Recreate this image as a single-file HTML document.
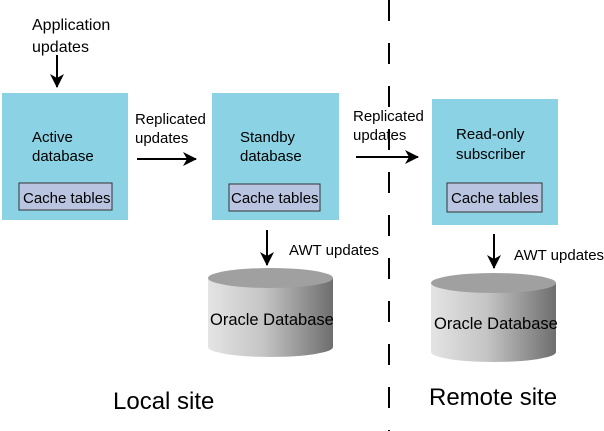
<!DOCTYPE html>
<html><head><meta charset="utf-8"><style>
body{margin:0;background:#fff;}
svg{display:block;font-family:"Liberation Sans",sans-serif;}
</style></head><body>
<svg width="604" height="431" viewBox="0 0 604 431" xmlns="http://www.w3.org/2000/svg">
<defs>
<linearGradient id="cyl" x1="0" x2="1" y1="0" y2="0">
<stop offset="0" stop-color="#e4e4e4"/><stop offset="0.45" stop-color="#c4c4c4"/><stop offset="1" stop-color="#6e6e6e"/>
</linearGradient>
<marker id="ah2" markerWidth="14" markerHeight="14" refX="13" refY="7" orient="auto" markerUnits="userSpaceOnUse">
<path d="M0,0 L14,7 L0,14 L4,7 Z" fill="#000"/></marker>
</defs>
<line x1="389" y1="0" x2="389" y2="431" stroke="#000" stroke-width="2" stroke-dasharray="21 22"/>
<g font-size="15" fill="#000">
<text x="32" y="30" font-size="16">Application</text><text x="32" y="52" font-size="16">updates</text>
<text x="135" y="124">Replicated</text><text x="135" y="143">updates</text>
<text x="353" y="121">Replicated</text><text x="353" y="140">updates</text>
<text x="289" y="255">AWT updates</text>
<text x="514" y="260">AWT updates</text>
</g>
<line x1="57" y1="55" x2="57" y2="87" stroke="#000" stroke-width="2" marker-end="url(#ah2)"/>
<line x1="137" y1="159" x2="196" y2="159" stroke="#000" stroke-width="2" marker-end="url(#ah2)"/>
<line x1="356" y1="157" x2="418" y2="157" stroke="#000" stroke-width="2" marker-end="url(#ah2)"/>
<line x1="267" y1="230" x2="267" y2="265" stroke="#000" stroke-width="2" marker-end="url(#ah2)"/>
<line x1="494" y1="234" x2="494" y2="268" stroke="#000" stroke-width="2" marker-end="url(#ah2)"/>

<g font-size="15">
<rect x="2" y="93" width="126" height="127" fill="#8ad2e4"/>
<text x="32" y="142">Active</text><text x="32" y="161">database</text>
<rect x="19" y="183" width="93" height="27" fill="#b9c5e0" stroke="#333" stroke-width="1"/>
<text x="23" y="203">Cache tables</text>

<rect x="212" y="93" width="127" height="127" fill="#8ad2e4"/>
<text x="240" y="142">Standby</text><text x="240" y="161">database</text>
<rect x="229" y="184" width="91" height="27" fill="#b9c5e0" stroke="#333" stroke-width="1"/>
<text x="231" y="203">Cache tables</text>

<rect x="432" y="99" width="126" height="126" fill="#8ad2e4"/>
<text x="456" y="139">Read-only</text><text x="456" y="159">subscriber</text>
<rect x="447" y="183" width="95" height="29" fill="#b9c5e0" stroke="#333" stroke-width="1"/>
<text x="451" y="203">Cache tables</text>
</g>

<path d="M208,278 L208,347 A62.5,10 0 0 0 333,347 L333,278 Z" fill="url(#cyl)"/>
<ellipse cx="270.5" cy="278" rx="62.5" ry="10" fill="#a0a0a0"/>
<text x="210" y="325" font-size="16.5">Oracle Database</text>
<path d="M431,283 L431,352 A62.5,10 0 0 0 556,352 L556,283 Z" fill="url(#cyl)"/>
<ellipse cx="493.5" cy="283" rx="62.5" ry="10" fill="#a0a0a0"/>
<text x="434" y="329" font-size="16.5">Oracle Database</text>

<text x="113" y="409" font-size="24">Local site</text>
<text x="429" y="405" font-size="24">Remote site</text>
</svg>
</body></html>
